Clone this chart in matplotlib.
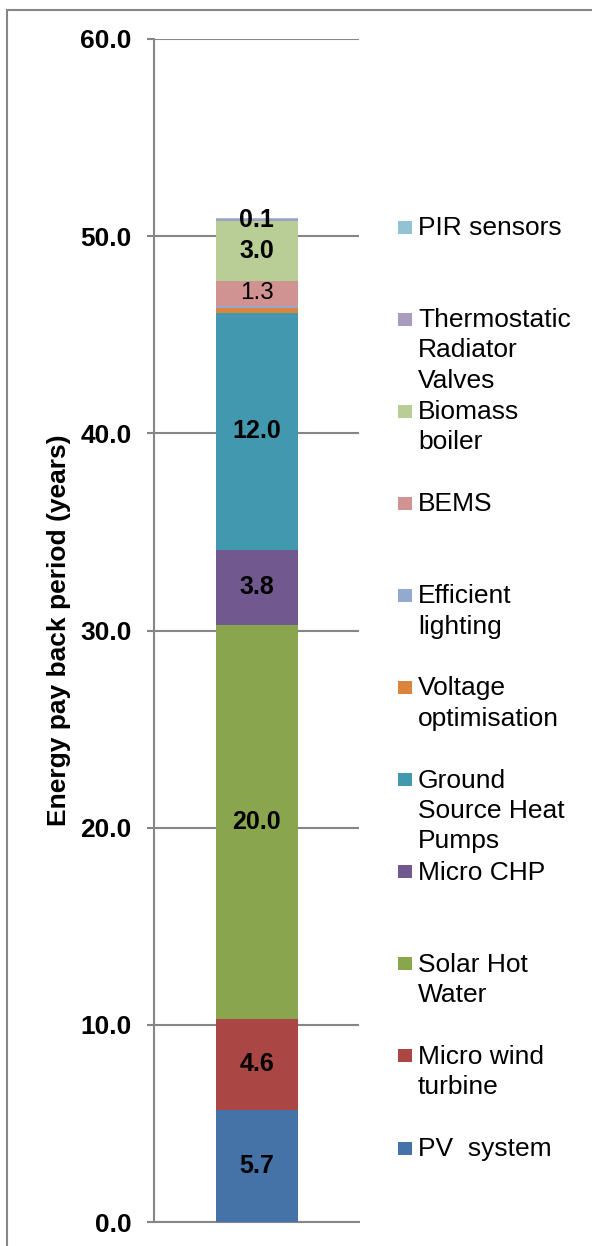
import matplotlib
matplotlib.use("Agg")
import matplotlib.pyplot as plt
from matplotlib.patches import Rectangle
from matplotlib.ticker import FormatStrFormatter
import numpy as np

plt.rcParams['font.family'] = ['Liberation Sans', 'DejaVu Sans']

# Measures, stacked from the bottom of the column upwards
measures = ["PV  system", "Micro wind\nturbine", "Solar Hot\nWater", "Micro CHP",
            "Ground\nSource Heat\nPumps", "Voltage\noptimisation", "Efficient\nlighting",
            "BEMS", "Biomass\nboiler", "Thermostatic\nRadiator\nValves", "PIR sensors"]
payback_years = [5.7, 4.6, 20.0, 3.8, 12.0, 0.25, 0.1, 1.3, 3.0, 0.1, 0.05]
value_labels = ["5.7", "4.6", "20.0", "3.8", "12.0", "", "", "1.3", "3.0", "0.1", ""]
colors = ["#4572A7", "#AA4643", "#89A54E", "#71588F", "#4198AF", "#DB843D",
          "#93A9CF", "#D19392", "#B9CD96", "#A99BBD", "#91C3D5"]
y_ticks = [0, 10, 20, 30, 40, 50, 60]

W, H = 592, 1246
GRID = "#868686"

fig = plt.figure(figsize=(W / 100, H / 100), dpi=100)
ax = fig.add_axes([154 / W, 24 / H, 205 / W, 1183 / H])

bottom = 0.0
for i, (v, c, lab) in enumerate(zip(payback_years, colors, value_labels)):
    bars = ax.bar(0, v, width=0.4, bottom=bottom, color=c, zorder=3, linewidth=0)
    if lab:
        bems = measures[i] == "BEMS"
        ax.bar_label(bars, labels=[lab], label_type="center",
                     fontsize=17.5 if bems else 18,
                     fontweight="normal" if bems else "bold",
                     color="black", zorder=4)
    bottom += v

ax.set_xlim(-0.5, 0.5)
ax.set_ylim(0, 60)
ax.set_yticks(y_ticks)
ax.yaxis.set_major_formatter(FormatStrFormatter("%.1f"))
ax.set_xticks([])
ax.yaxis.grid(True, color=GRID, linewidth=1.5)
ax.set_axisbelow(True)
for s in ("top", "right"):
    ax.spines[s].set_visible(False)
for s in ("left", "bottom"):
    ax.spines[s].set_color(GRID)
    ax.spines[s].set_linewidth(1.5)
ax.tick_params(axis="y", length=5, width=1.5, color=GRID, pad=11, labelsize=19)
for t in ax.get_yticklabels():
    t.set_fontweight("bold")

fig.text(59 / W, 1 - 630 / H, "Energy pay back period (years)", rotation=90,
         ha="center", va="center", fontsize=19, fontweight="bold")

# Legend: top entry is the last stacked series
y0, step = 227, 92.1
for k, idx in enumerate(range(len(measures) - 1, -1, -1)):
    yc = y0 + k * step
    fig.patches.append(Rectangle((398 / W, 1 - (yc + 6.5) / H), 14 / W, 13 / H,
                                 transform=fig.transFigure, color=colors[idx], lw=0))
    fig.text(418 / W, 1 - (yc - 11) / H, measures[idx], ha="left", va="top",
             fontsize=19, linespacing=1.33)

# Chart area border
fig.patches.append(Rectangle((7 / W, -0.1), 2, 1.1 - 10 / H, transform=fig.transFigure,
                             fill=False, ec=GRID, lw=1.5))

fig.savefig("out.png", dpi=100)
